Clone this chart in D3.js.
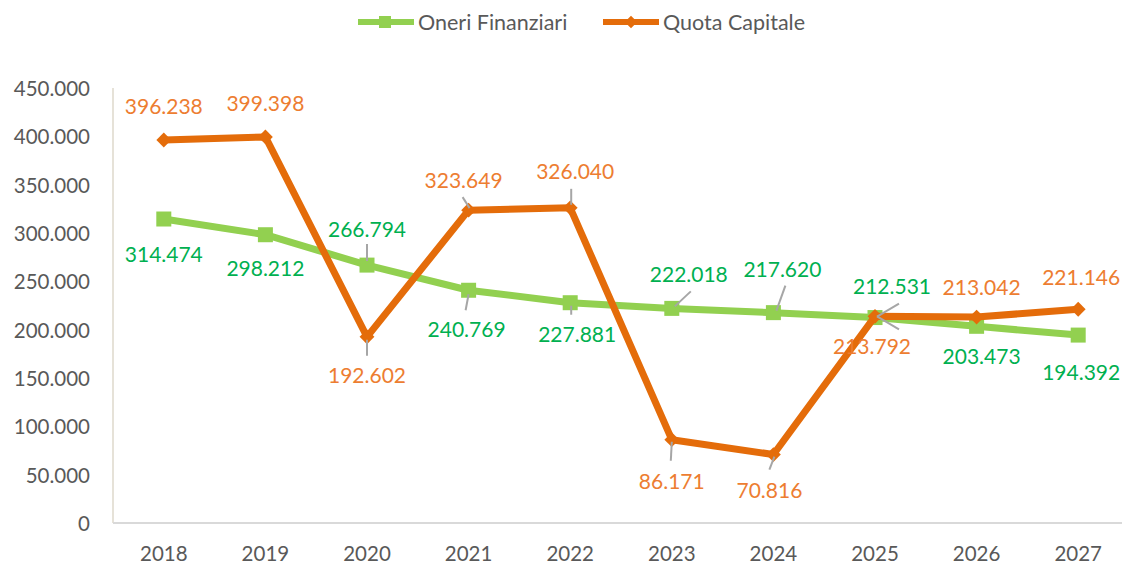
<!DOCTYPE html>
<html>
<head>
<meta charset="utf-8">
<script src="https://cdn.jsdelivr.net/npm/d3@7"></script>
<style>
  body { margin: 0; background: #fff; }
  text { font-family: Lato, "Open Sans", sans-serif; }
</style>
</head>
<body>
<div id="chart"></div>
<script>
// data
var years = ["2018", "2019", "2020", "2021", "2022", "2023", "2024", "2025", "2026", "2027"];
var oneriFinanziari = [314474, 298212, 266794, 240769, 227881, 222018, 217620, 212531, 203473, 194392];
var quotaCapitale = [396238, 399398, 192602, 323649, 326040, 86171, 70816, 213792, 213042, 221146];
var yTicks = [0, 50000, 100000, 150000, 200000, 250000, 300000, 350000, 400000, 450000];

// label placement (offset of label centre from the point) + optional leader line
var greenLabels = [
  [0, 34], [0, 33], [0, -37, [0, -4, 0, -21]], [-2, 38, [0, 4, -3, 20]], [7, 31, [1, 3, 1, 12]],
  [17, -35, [3, -2, 19, -17]], [9, -44, [3, -2, 12, -27]], [17, -32, [2, -1, 24, -14]], [5, 29], [3, 36]
];
var orangeLabels = [
  [0, -34], [0, -34], [0, 38, [0, 3, 0, 19]], [-5, -31, [1, -2, -6, -13]], [5, -37, [1, -3, 1, -19]],
  [0, 41, [0, 2, -1, 21]], [-4, 35, [1, 2, -4, 15]], [-3, 29, [2, 0, 24, 13]], [5, -31], [3, -33]
];

var svgWidth = 1124, svgHeight = 564;
var svg = d3.select("#chart").append("svg")
  .attr("width", svgWidth)
  .attr("height", svgHeight);

var x = d3.scaleBand().domain(years).range([113, 1129]);
var y = d3.scaleLinear().domain([0, 450000]).range([523, 88]);
var fmt = function(v) { return d3.format(",")(v).replace(/,/g, "."); };
var cx = function(i) { return x(years[i]) + x.bandwidth() / 2; };

// axes
svg.append("line").attr("x1", 113).attr("x2", 113).attr("y1", 88).attr("y2", 523)
  .attr("stroke", "#E6E2D8").attr("stroke-width", 2);
svg.append("line").attr("x1", 113).attr("x2", 1122).attr("y1", 523).attr("y2", 523)
  .attr("stroke", "#D9D9D9").attr("stroke-width", 2);

svg.selectAll(".ytick").data(yTicks).enter().append("text")
  .attr("x", 90).attr("y", d => y(d))
  .attr("text-anchor", "end").attr("dominant-baseline", "central")
  .attr("font-size", 20.5).attr("fill", "#595959")
  .text(d => d === 0 ? "0" : fmt(d));

svg.selectAll(".xtick").data(years).enter().append("text")
  .attr("x", (d, i) => cx(i)).attr("y", 553)
  .attr("text-anchor", "middle").attr("dominant-baseline", "central")
  .attr("font-size", 20.5).attr("fill", "#595959")
  .text(d => d);

var line = d3.line().x((d, i) => cx(i)).y(d => y(d));

function drawSeries(values, color, labelColor, layout, marker) {
  svg.append("path").datum(values)
    .attr("d", line).attr("fill", "none")
    .attr("stroke", color).attr("stroke-width", 7).attr("stroke-linejoin", "round");
  values.forEach(function(v, i) {
    var px = cx(i), py = y(v);
    if (marker === "square") {
      svg.append("rect").attr("x", px - 7.5).attr("y", py - 7.5).attr("width", 15).attr("height", 15).attr("fill", color);
    } else {
      svg.append("path").attr("d", d3.symbol().type(d3.symbolDiamond2).size(140)())
        .attr("transform", "translate(" + px + "," + py + ")").attr("fill", color);
    }
  });
  return function() {
    values.forEach(function(v, i) {
      var px = cx(i), py = y(v), l = layout[i];
      if (l[2]) {
        svg.append("line")
          .attr("x1", px + l[2][0]).attr("y1", py + l[2][1])
          .attr("x2", px + l[2][2]).attr("y2", py + l[2][3])
          .attr("stroke", "#A6A6A6").attr("stroke-width", 2);
      }
      svg.append("text")
        .attr("x", px + l[0]).attr("y", py + l[1])
        .attr("text-anchor", "middle").attr("dominant-baseline", "central")
        .attr("font-size", 21).attr("fill", labelColor)
        .text(fmt(v));
    });
  };
}

var greenLbl = drawSeries(oneriFinanziari, "#92D050", "#00B050", greenLabels, "square");
var orangeLbl = drawSeries(quotaCapitale, "#E46C0A", "#ED7D31", orangeLabels, "diamond");
greenLbl();
orangeLbl();

// legend
var legend = [
  {name: "Oneri Finanziari", color: "#92D050", x: 358, marker: "square"},
  {name: "Quota Capitale", color: "#E46C0A", x: 603, marker: "diamond"}
];
legend.forEach(function(d) {
  svg.append("line").attr("x1", d.x).attr("x2", d.x + 56).attr("y1", 22).attr("y2", 22)
    .attr("stroke", d.color).attr("stroke-width", 6);
  if (d.marker === "square") {
    svg.append("rect").attr("x", d.x + 21).attr("y", 16).attr("width", 12).attr("height", 12).attr("fill", d.color);
  } else {
    svg.append("path").attr("d", d3.symbol().type(d3.symbolDiamond2).size(100)())
      .attr("transform", "translate(" + (d.x + 28) + ",22)").attr("fill", d.color);
  }
  svg.append("text").attr("x", d.x + 60).attr("y", 22)
    .attr("dominant-baseline", "central").attr("font-size", 21.5).attr("fill", "#595959")
    .text(d.name);
});
</script>
</body>
</html>
